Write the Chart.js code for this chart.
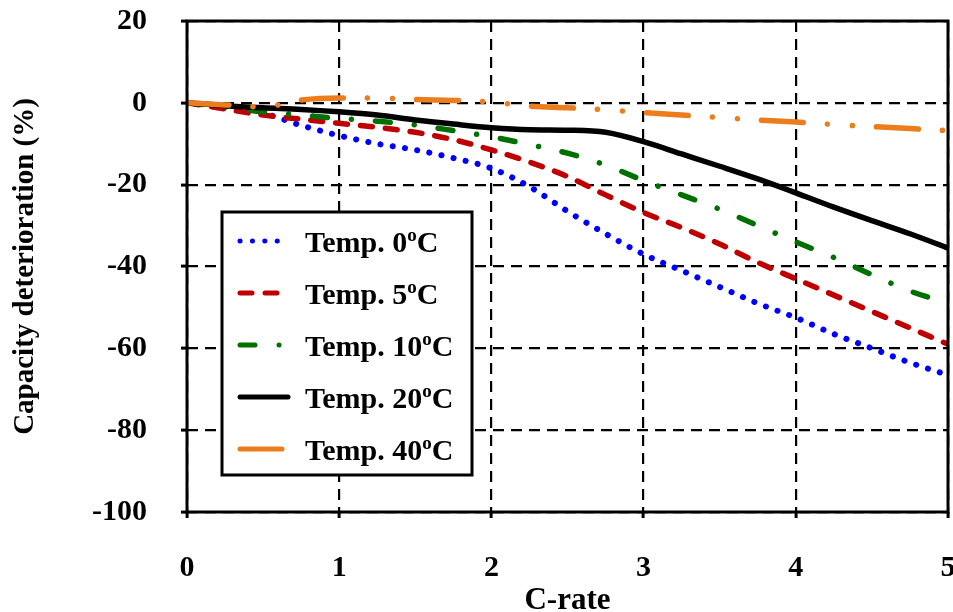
<!DOCTYPE html>
<html>
<head>
<meta charset="utf-8">
<script src="https://cdn.jsdelivr.net/npm/chart.js@4.4.1/dist/chart.umd.min.js"></script>
<style>
  html, body { margin: 0; padding: 0; background: #fff; }
  #wrap { width: 953px; height: 612px; }
</style>
</head>
<body>
<div id="wrap"><canvas id="chart" width="953" height="612"></canvas></div>
<script>
// valeurs
const cRate = [0, 0.25, 0.5, 0.75, 1, 1.25, 1.5, 1.75, 2, 2.25, 2.5, 2.75, 3, 3.25, 3.5, 3.75, 4, 4.25, 4.5, 4.75, 5];
const temp0  = [0, -0.8, -2.5, -5.5, -8, -10, -11.5, -13.5, -16, -20.5, -26.5, -32, -37, -41, -45, -49, -52.5, -56.5, -60, -63.5, -66.5];
const temp5  = [0, -1.5, -3, -4, -5, -6, -7.2, -9, -11.5, -14.5, -18, -22.5, -26.8, -30.5, -34.5, -39, -43, -47, -51, -55, -59];
const temp10 = [0, -1, -2.2, -3, -3.8, -4.5, -5.4, -6.8, -8.3, -10.2, -12.3, -15.2, -19, -22.5, -26, -30, -34, -37.8, -42, -46, -49];
const temp20 = [0, -0.7, -1.2, -1.6, -2.2, -3, -4.2, -5.2, -6.1, -6.6, -6.7, -7.2, -9.5, -12.5, -15.5, -18.6, -22, -25.5, -28.8, -32, -35.5];
const temp40 = [0, -0.5, -1, 0.7, 1.2, 1.2, 0.8, 0.6, 0.2, -0.8, -1.2, -1.7, -2.4, -3, -3.6, -4.2, -4.7, -5.3, -5.8, -6.3, -6.8];
const tempNames = ['0', '5', '10', '20', '40'];
const xTicks = [0, 1, 2, 3, 4, 5];
const yTicks = [-100, -80, -60, -40, -20, 0, 20];

const serif = "'Liberation Serif', 'Times New Roman', serif";

function pts(ys) {
    return cRate.map((x, i) => ({ x: x, y: ys[i] }));
}

const styles = [
    { color: '#0000ff', dash: [0.1, 12.3], width: 6 },
    { color: '#c00000', dash: [12, 13], width: 5.5 },
    { color: '#007000', dash: [15, 24, 0.1, 24], width: 5.5 },
    { color: '#000000', dash: [], width: 5.5 },
    { color: '#ed7d1c', dash: [42, 24, 0.1, 25, 0.1, 24], width: 5.5 }
];
const series = [temp0, temp5, temp10, temp20, temp40];

const datasets = series.map((s, i) => ({
    label: 'Temp. ' + tempNames[i] + '°C',
    data: pts(s),
    borderColor: styles[i].color,
    borderDash: styles[i].dash,
    borderWidth: styles[i].width,
    borderCapStyle: 'round',
    pointRadius: 0,
    cubicInterpolationMode: 'monotone',
    fill: false,
    order: 4 - i
}));

// cadre + légende dessinés à la main (exposant "o")
const framePlugin = {
    id: 'frameLegend',
    afterDraw(chart) {
        const ctx = chart.ctx;
        const a = chart.chartArea;
        ctx.save();
        ctx.strokeStyle = '#000';
        ctx.lineWidth = 3;
        ctx.setLineDash([]);
        ctx.strokeRect(a.left, a.top, a.right - a.left, a.bottom - a.top);

        // boîte de légende
        const bx = 222, by = 212, bw = 250, bh = 263;
        ctx.fillStyle = '#fff';
        ctx.fillRect(bx, by, bw, bh);
        ctx.lineWidth = 3;
        ctx.strokeRect(bx, by, bw, bh);

        series.forEach((s, i) => {
            const y = 241 + i * 52;
            ctx.beginPath();
            ctx.strokeStyle = styles[i].color;
            ctx.lineWidth = 5;
            ctx.lineCap = 'round';
            ctx.setLineDash(styles[i].dash);
            ctx.moveTo(240, y);
            ctx.lineTo(288, y);
            ctx.stroke();
            ctx.setLineDash([]);

            ctx.fillStyle = '#000';
            ctx.textBaseline = 'alphabetic';
            ctx.textAlign = 'left';
            const base = y + 11;
            ctx.font = 'bold 30px ' + serif;
            let t = 'Temp. ' + tempNames[i];
            ctx.fillText(t, 305, base);
            let x = 305 + ctx.measureText(t).width;
            ctx.font = 'bold 19px ' + serif;
            ctx.fillText('o', x, base - 11);
            x += ctx.measureText('o').width;
            ctx.font = 'bold 30px ' + serif;
            ctx.fillText('C', x, base);
        });
        ctx.restore();
    }
};

new Chart(document.getElementById('chart'), {
    type: 'line',
    data: { datasets: datasets },
    plugins: [framePlugin],
    options: {
        responsive: false,
        animation: false,
        layout: { padding: { left: 0, right: 5, top: 21, bottom: 0 } },
        plugins: {
            legend: { display: false },
            tooltip: { enabled: false }
        },
        scales: {
            x: {
                type: 'linear',
                min: 0,
                max: 5,
                afterBuildTicks: (axis) => { axis.ticks = xTicks.map(v => ({ value: v })); },
                afterFit: (axis) => {
                    axis.height = 100;
                    axis.paddingLeft = 0;
                    axis.paddingRight = 0;
                },
                grid: {
                    color: '#000',
                    lineWidth: 2.2,
                    drawTicks: true,
                    tickLength: 6,
                    tickColor: '#000',
                    tickWidth: 3
                },
                border: { display: false, dash: [11, 7] },
                ticks: {
                    color: '#000',
                    padding: 32,
                    maxRotation: 0,
                    font: { family: serif, size: 30, weight: 'bold' }
                },
                title: {
                    display: true,
                    text: 'C-rate',
                    color: '#000',
                    padding: { top: 0, bottom: -8 },
                    font: { family: serif, size: 31, weight: 'bold' }
                }
            },
            y: {
                type: 'linear',
                min: -100,
                max: 20,
                afterBuildTicks: (axis) => { axis.ticks = yTicks.map(v => ({ value: v })); },
                afterFit: (axis) => {
                    axis.width = 187;
                    axis.paddingTop = 0;
                    axis.paddingBottom = 0;
                },
                grid: {
                    color: '#000',
                    lineWidth: 2.2,
                    drawTicks: true,
                    tickLength: 6,
                    tickColor: '#000',
                    tickWidth: 3
                },
                border: { display: false, dash: [11, 7] },
                ticks: {
                    color: '#000',
                    padding: 34,
                    font: { family: serif, size: 30, weight: 'bold' }
                },
                title: {
                    display: true,
                    text: 'Capacity deterioration (%)',
                    color: '#000',
                    padding: { top: 8, bottom: 0 },
                    font: { family: serif, size: 29, weight: 'bold' }
                }
            }
        }
    }
});
</script>
</body>
</html>
